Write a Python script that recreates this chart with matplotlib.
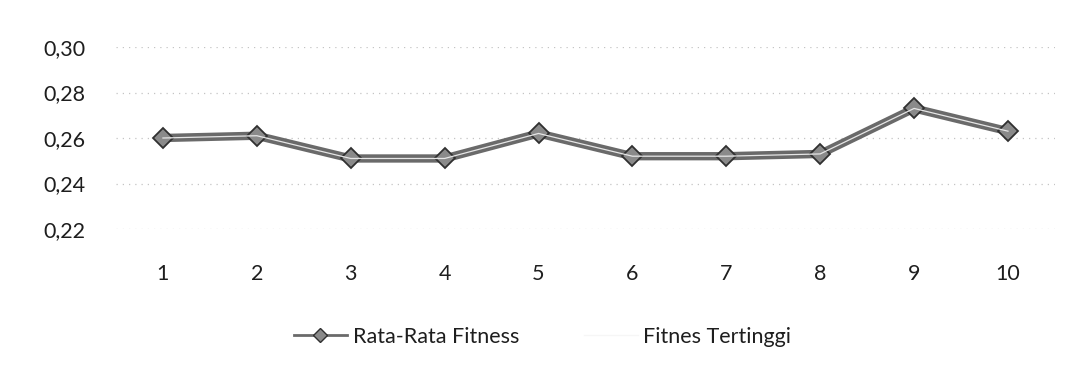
import numpy as np
import matplotlib.pyplot as plt
from matplotlib.lines import Line2D

plt.rcParams['font.family'] = ['Lato', 'DejaVu Sans']

generasi = [1, 2, 3, 4, 5, 6, 7, 8, 9, 10]
rata_rata = [0.260, 0.261, 0.251, 0.251, 0.262, 0.252, 0.252, 0.253, 0.273, 0.263]
tertinggi = [0.260, 0.261, 0.251, 0.251, 0.262, 0.252, 0.252, 0.253, 0.273, 0.263]
y_ticks = [0.22, 0.24, 0.26, 0.28, 0.30]

text_color = '#1e1e1e'
line_color = '#6a6a6a'
grid_color = '#c4c4c4'

fig = plt.figure(figsize=(10.78, 3.74), dpi=100)
ax = fig.add_axes([0.1076, 0.3877, 0.871, 0.4866])

ax.plot(generasi, rata_rata, color=line_color, linewidth=6, marker='D',
        markersize=10, markerfacecolor='#8a8a8a', markeredgecolor='#303030',
        markeredgewidth=1.3, label='Rata-Rata Fitness', zorder=3)
ax.plot(generasi, tertinggi, color='#e6e6e6', linewidth=0.9,
        label='Fitnes Tertinggi', zorder=4)

ax.set_xlim(0.5, 10.5)
ax.set_ylim(0.22, 0.30)
ax.set_xticks(generasi)
ax.set_xticklabels([str(g) for g in generasi])
ax.set_yticks(y_ticks)
ax.set_yticklabels([f"{v:.2f}".replace('.', ',') for v in y_ticks])

ax.tick_params(axis='both', length=0, labelsize=15.5, colors=text_color)
ax.tick_params(axis='y', pad=22)
ax.tick_params(axis='x', pad=25)

ax.grid(axis='y', color=grid_color, linestyle=(0, (1, 4)), linewidth=0.9)
ax.set_axisbelow(True)
for s in ax.spines.values():
    s.set_visible(False)

handles = [
    Line2D([], [], color=line_color, linewidth=2, marker='D', markersize=7,
           markerfacecolor='#8a8a8a', markeredgecolor='#303030'),
    Line2D([], [], color='#f6f6f6', linewidth=1),
]
fig.legend(handles, ['Rata-Rata Fitness', 'Fitnes Tertinggi'], loc='center',
           bbox_to_anchor=(0.503, 0.099), ncol=2, frameon=False,
           fontsize=15.5, handlelength=2.5, handletextpad=0.25,
           columnspacing=3.0, labelcolor=text_color)

fig.savefig('out.png', dpi=100, facecolor='white')
